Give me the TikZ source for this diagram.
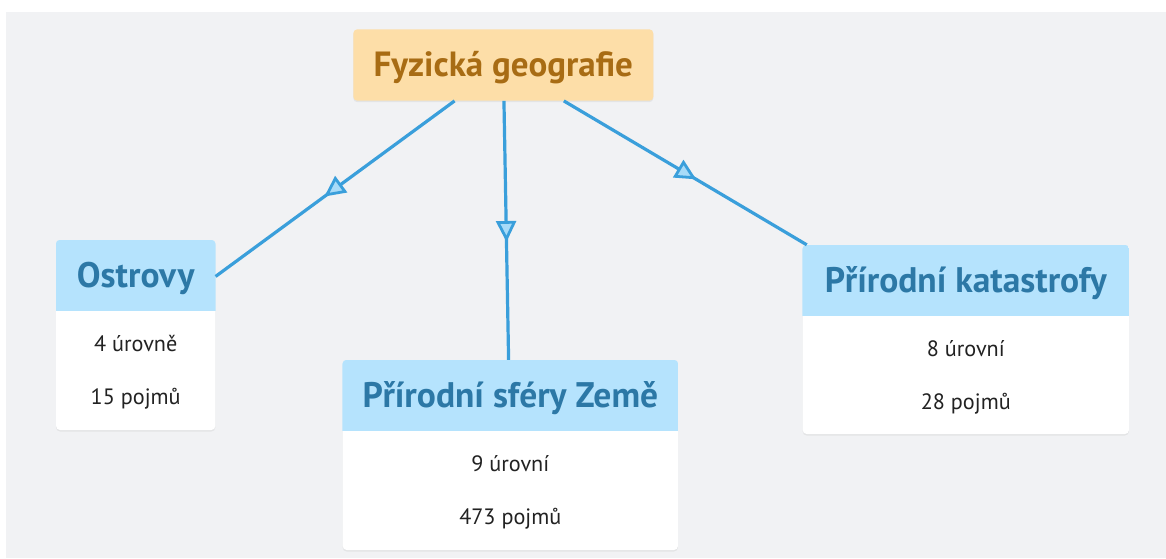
\documentclass[tikz,border=0pt]{standalone}
\usepackage{fontspec}
\setmainfont{PT Sans}
\usetikzlibrary{arrows.meta,decorations.markings,shadows,calc}

\definecolor{canvas}{HTML}{F1F2F4}
\definecolor{rootfill}{HTML}{FDDEA8}
\definecolor{roottext}{HTML}{A86C14}
\definecolor{headfill}{HTML}{B5E3FD}
\definecolor{headtext}{HTML}{2C78A6}
\definecolor{linkblue}{HTML}{3A9FDB}
\definecolor{tipfill}{HTML}{A8DBF8}
\definecolor{bodytext}{HTML}{222222}

\tikzset{
  softshadow/.style={drop shadow={opacity=0.12, shadow xshift=0pt, shadow yshift=-1.5pt}},
  rootbox/.style={rectangle, rounded corners=4pt, fill=rootfill, softshadow,
    minimum width=300pt, minimum height=71.4pt, inner sep=0pt,
    text=roottext, font=\fontsize{35}{35}\selectfont\bfseries,
    text height=23.5pt, text depth=0pt},
  card/.style={rectangle, rounded corners=4pt, fill=white, softshadow, inner sep=0pt},
  cardtitle/.style={inner sep=0pt, text=headtext,
    font=\fontsize{35.5}{35.5}\selectfont\bfseries, text height=23.5pt, text depth=0pt},
  cardline/.style={inner sep=0pt, anchor=base, text=bodytext,
    font=\fontsize{22.2}{22.2}\selectfont},
  link/.style={draw=linkblue, line width=3.2pt, postaction={decorate},
    decoration={markings, mark=at position 0.545 with
      {\arrow{Triangle[length=21pt, width=20pt, fill=tipfill, line width=2.8pt]}}}}
}

% one concept card: name, centre x, centre y, width, height, title, two info lines
\newcommand\mapcard[8]{%
  \node[card, minimum width=#4pt, minimum height=#5pt] (#1) at (#2,#3) {};
  \begin{scope}
    \clip[rounded corners=4pt] (#1.north west) rectangle (#1.south east);
    \fill[headfill] (#1.north west) rectangle ($(#1.north east)+(0,71.5)$);
  \end{scope}
  \node[cardtitle] (#1-title) at ($(#1.north)+(0,35.75)$) {#6};
  \node[cardline] (#1-levels) at ($(#1.north)+(0,111.5)$) {#7};
  \node[cardline] (#1-terms) at ($(#1.north)+(0,164.8)$) {#8};
}

\begin{document}
\begin{tikzpicture}[x=1pt, y=-1pt]
  \useasboundingbox (0,0) rectangle (1166,558);
  \fill[canvas] (6,12) rectangle (1166,558);

  \node[rootbox] (root) at (503.3,65) {Fyzická geografie};

  \mapcard{ostrovy}{135.7}{335}{159.3}{190}{Ostrovy}{4 úrovně}{15 pojmů}
  \mapcard{sfery}{510.3}{455}{335.3}{190}{Přírodní sféry Země}{9 úrovní}{473 pojmů}
  \mapcard{katastrofy}{965.8}{339.5}{326.3}{189}{Přírodní katastrofy}{8 úrovní}{28 pojmů}

  \draw[link] (root) -- (ostrovy);
  \draw[link] (root) -- (sfery);
  \draw[link] (root) -- (katastrofy);
\end{tikzpicture}
\end{document}
